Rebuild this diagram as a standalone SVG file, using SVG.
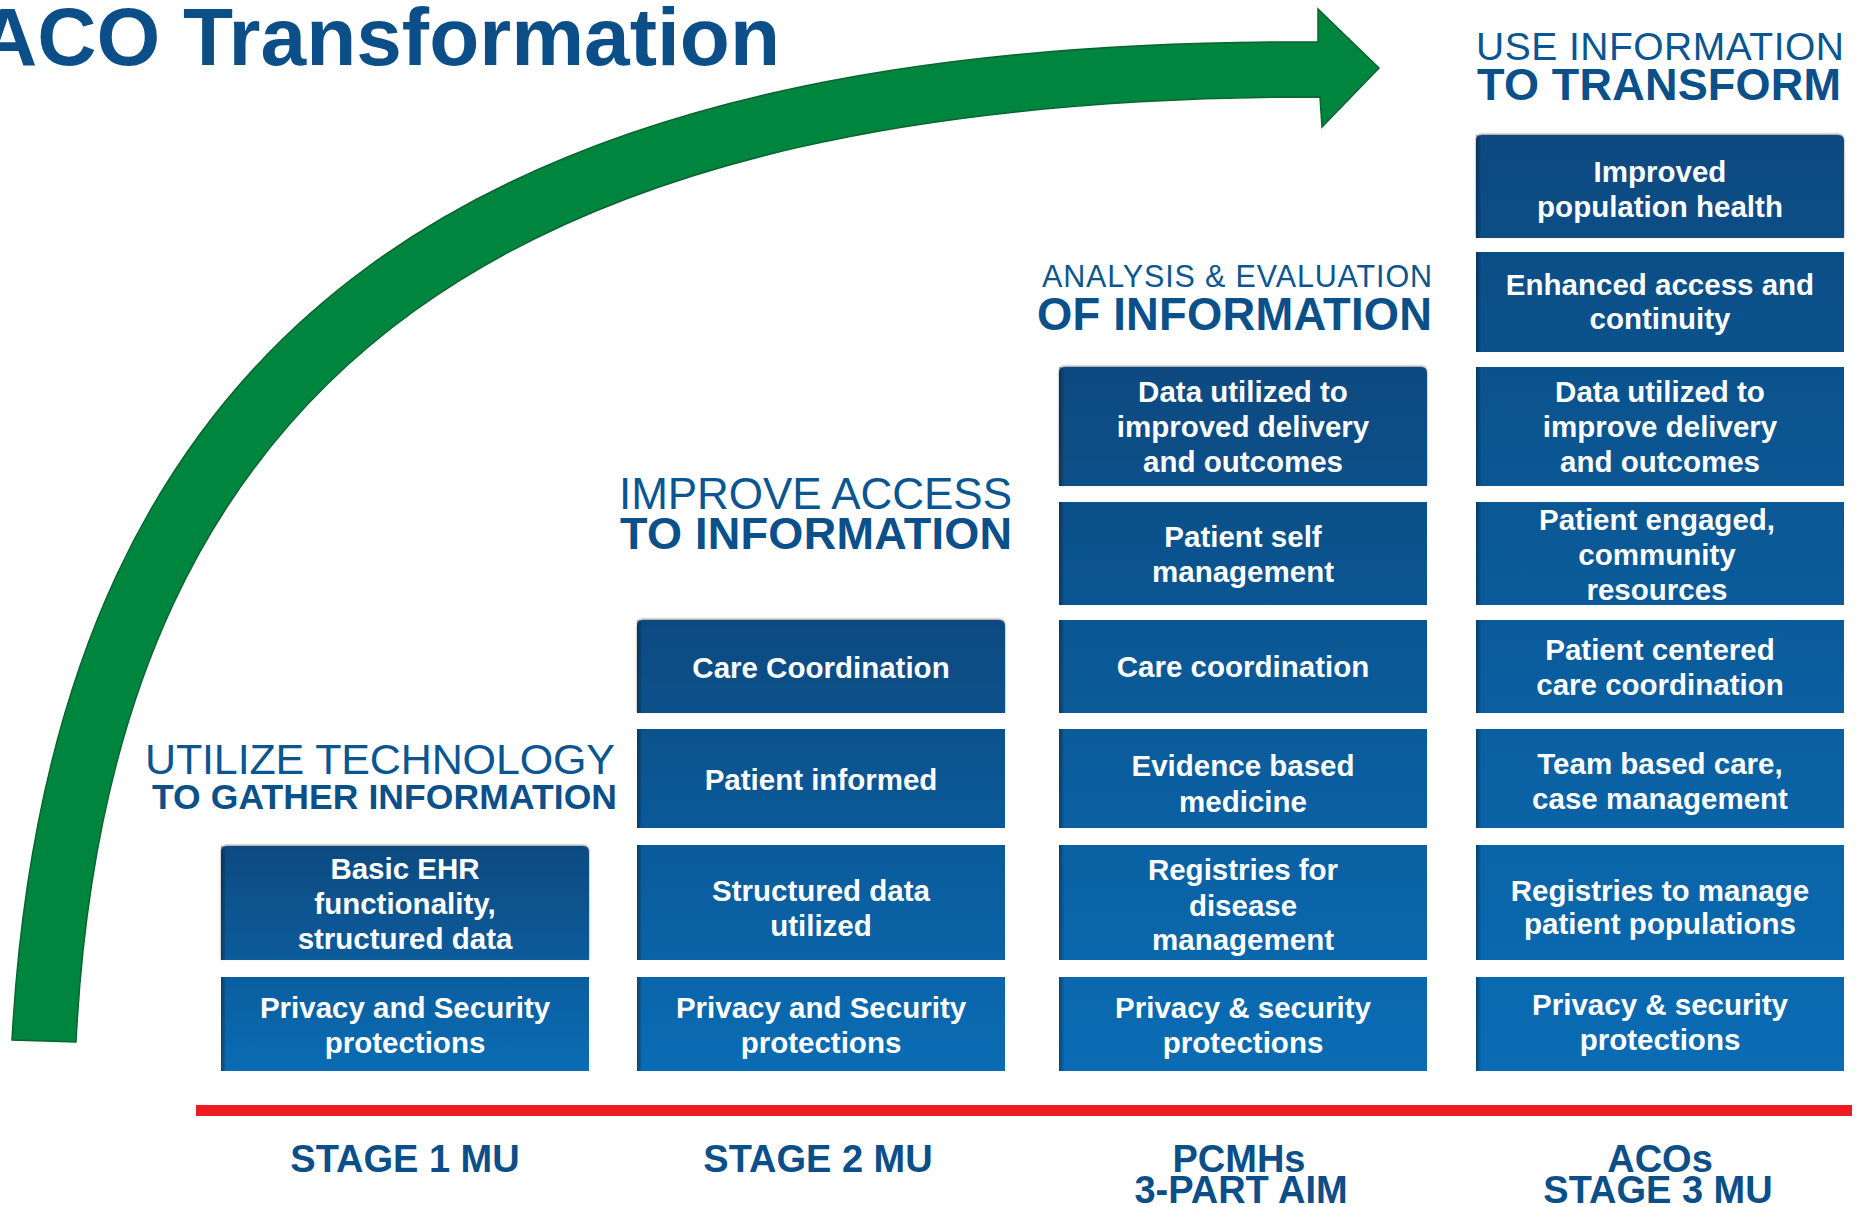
<svg xmlns="http://www.w3.org/2000/svg" width="1863" height="1207" viewBox="0 0 1863 1207">
  <style>
    .title { font-family: "Liberation Sans", Arial, sans-serif; font-weight: bold; fill: #0c4f88; }
    .hreg { font-family: "Liberation Sans", Arial, sans-serif; font-weight: normal; fill: #0b5690; }
    .hbold { font-family: "Liberation Sans", Arial, sans-serif; font-weight: bold; fill: #0b5089; }
    .bt { font-family: "Liberation Sans", Arial, sans-serif; font-weight: bold; font-size: 29.5px; fill: #ffffff; text-anchor: middle; }
    .stage { font-family: "Liberation Sans", Arial, sans-serif; font-weight: bold; font-size: 38px; fill: #0c4f88; text-anchor: middle; }
    .edge { fill: url(#edgeShade); }
  </style>
  <defs>
    <linearGradient id="g1" gradientUnits="userSpaceOnUse" x1="0" y1="846" x2="0" y2="1071">
      <stop offset="0" stop-color="#0b4a80"/><stop offset="1" stop-color="#0a6cb4"/>
    </linearGradient>
    <linearGradient id="g2" gradientUnits="userSpaceOnUse" x1="0" y1="620" x2="0" y2="1071">
      <stop offset="0" stop-color="#0b4a80"/><stop offset="1" stop-color="#0a6cb4"/>
    </linearGradient>
    <linearGradient id="g3" gradientUnits="userSpaceOnUse" x1="0" y1="367" x2="0" y2="1071">
      <stop offset="0" stop-color="#0b4a80"/><stop offset="1" stop-color="#0a6cb4"/>
    </linearGradient>
    <linearGradient id="g4" gradientUnits="userSpaceOnUse" x1="0" y1="135" x2="0" y2="1071">
      <stop offset="0" stop-color="#0b4a80"/><stop offset="1" stop-color="#0a6cb4"/>
    </linearGradient>
    <linearGradient id="edgeShade" x1="0" y1="0" x2="1" y2="0">
      <stop offset="0" stop-color="#000000" stop-opacity="0.35"/>
      <stop offset="0.015" stop-color="#000000" stop-opacity="0"/>
      <stop offset="1" stop-color="#000000" stop-opacity="0"/>
    </linearGradient>
    <filter id="topShadow" x="-5%" y="-10%" width="110%" height="120%">
      <feDropShadow dx="0" dy="-1" stdDeviation="1.3" flood-color="#000000" flood-opacity="0.45"/>
    </filter>
  </defs>

  <rect x="0" y="0" width="1863" height="1207" fill="#ffffff"/>

  <!-- Title -->
  <text class="title" x="-22" y="65" font-size="82" textLength="802">ACO Transformation</text>

  <!-- Progress arrow -->
  <g id="progress-arrow">
    <path d="M 12,1040 C 52,310 490,38 1318,42 L 1318,9 L 1379,68 L 1322,127 L 1320,97 C 530,97 110,352 76,1042 Z" fill="#00853e" stroke="#07652f" stroke-width="1.5" stroke-linejoin="miter"/>
  </g>

  <!-- Headings -->
  <g id="heading-stage1">
    <text class="hreg" x="145" y="774" font-size="43" textLength="470">UTILIZE TECHNOLOGY</text>
    <text class="hbold" x="152" y="809" font-size="35.5" textLength="465">TO GATHER INFORMATION</text>
  </g>
  <g id="heading-stage2">
    <text class="hreg" x="619" y="509" font-size="44" textLength="393">IMPROVE ACCESS</text>
    <text class="hbold" x="620" y="549" font-size="45" textLength="392">TO INFORMATION</text>
  </g>
  <g id="heading-pcmh">
    <text class="hreg" x="1042" y="287" font-size="30.5" textLength="390">ANALYSIS &amp; EVALUATION</text>
    <text class="hbold" x="1037" y="330" font-size="45.3" textLength="395">OF INFORMATION</text>
  </g>
  <g id="heading-aco">
    <text class="hreg" x="1476" y="60" font-size="39" textLength="368">USE INFORMATION</text>
    <text class="hbold" x="1477" y="100" font-size="45" textLength="364">TO TRANSFORM</text>
  </g>

  <!-- Column 1: Stage 1 MU -->
  <g id="c1-basic-ehr">
    <path d="M221,960 V852 Q221,846 227,846 H583 Q589,846 589,852 V960 Z" fill="url(#g1)" filter="url(#topShadow)"/>
    <rect class="edge" x="221" y="846" width="368" height="114"/>
    <text class="bt" x="405" y="879">Basic EHR</text>
    <text class="bt" x="405" y="914">functionality,</text>
    <text class="bt" x="405" y="949">structured data</text>
  </g>
  <g id="c1-privacy">
    <rect x="221" y="977" width="368" height="94" fill="url(#g1)"/>
    <rect class="edge" x="221" y="977" width="368" height="94"/>
    <text class="bt" x="405" y="1018">Privacy and Security</text>
    <text class="bt" x="405" y="1053">protections</text>
  </g>

  <!-- Column 2: Stage 2 MU -->
  <g id="c2-care-coordination">
    <path d="M637,713 V626 Q637,620 643,620 H999 Q1005,620 1005,626 V713 Z" fill="url(#g2)" filter="url(#topShadow)"/>
    <rect class="edge" x="637" y="620" width="368" height="93"/>
    <text class="bt" x="821" y="678">Care Coordination</text>
  </g>
  <g id="c2-patient-informed">
    <rect x="637" y="729" width="368" height="99" fill="url(#g2)"/>
    <rect class="edge" x="637" y="729" width="368" height="99"/>
    <text class="bt" x="821" y="790">Patient informed</text>
  </g>
  <g id="c2-structured-data">
    <rect x="637" y="845" width="368" height="115" fill="url(#g2)"/>
    <rect class="edge" x="637" y="845" width="368" height="115"/>
    <text class="bt" x="821" y="901">Structured data</text>
    <text class="bt" x="821" y="936">utilized</text>
  </g>
  <g id="c2-privacy">
    <rect x="637" y="977" width="368" height="94" fill="url(#g2)"/>
    <rect class="edge" x="637" y="977" width="368" height="94"/>
    <text class="bt" x="821" y="1018">Privacy and Security</text>
    <text class="bt" x="821" y="1053">protections</text>
  </g>

  <!-- Column 3: PCMHs -->
  <g id="c3-data-utilized">
    <path d="M1059,486 V373 Q1059,367 1065,367 H1421 Q1427,367 1427,373 V486 Z" fill="url(#g3)" filter="url(#topShadow)"/>
    <rect class="edge" x="1059" y="367" width="368" height="119"/>
    <text class="bt" x="1243" y="402">Data utilized to</text>
    <text class="bt" x="1243" y="437">improved delivery</text>
    <text class="bt" x="1243" y="472">and outcomes</text>
  </g>
  <g id="c3-patient-self">
    <rect x="1059" y="502" width="368" height="103" fill="url(#g3)"/>
    <rect class="edge" x="1059" y="502" width="368" height="103"/>
    <text class="bt" x="1243" y="547">Patient self</text>
    <text class="bt" x="1243" y="582">management</text>
  </g>
  <g id="c3-care-coordination">
    <rect x="1059" y="620" width="368" height="93" fill="url(#g3)"/>
    <rect class="edge" x="1059" y="620" width="368" height="93"/>
    <text class="bt" x="1243" y="677">Care coordination</text>
  </g>
  <g id="c3-evidence">
    <rect x="1059" y="729" width="368" height="99" fill="url(#g3)"/>
    <rect class="edge" x="1059" y="729" width="368" height="99"/>
    <text class="bt" x="1243" y="776">Evidence based</text>
    <text class="bt" x="1243" y="812">medicine</text>
  </g>
  <g id="c3-registries">
    <rect x="1059" y="845" width="368" height="115" fill="url(#g3)"/>
    <rect class="edge" x="1059" y="845" width="368" height="115"/>
    <text class="bt" x="1243" y="880">Registries for</text>
    <text class="bt" x="1243" y="916">disease</text>
    <text class="bt" x="1243" y="950">management</text>
  </g>
  <g id="c3-privacy">
    <rect x="1059" y="977" width="368" height="94" fill="url(#g3)"/>
    <rect class="edge" x="1059" y="977" width="368" height="94"/>
    <text class="bt" x="1243" y="1018">Privacy &amp; security</text>
    <text class="bt" x="1243" y="1053">protections</text>
  </g>

  <!-- Column 4: ACOs -->
  <g id="c4-population-health">
    <path d="M1476,238 V141 Q1476,135 1482,135 H1838 Q1844,135 1844,141 V238 Z" fill="url(#g4)" filter="url(#topShadow)"/>
    <rect class="edge" x="1476" y="135" width="368" height="103"/>
    <text class="bt" x="1660" y="182">Improved</text>
    <text class="bt" x="1660" y="217">population health</text>
  </g>
  <g id="c4-access">
    <rect x="1476" y="252" width="368" height="100" fill="url(#g4)"/>
    <rect class="edge" x="1476" y="252" width="368" height="100"/>
    <text class="bt" x="1660" y="295">Enhanced access and</text>
    <text class="bt" x="1660" y="329">continuity</text>
  </g>
  <g id="c4-data-utilized">
    <rect x="1476" y="367" width="368" height="119" fill="url(#g4)"/>
    <rect class="edge" x="1476" y="367" width="368" height="119"/>
    <text class="bt" x="1660" y="402">Data utilized to</text>
    <text class="bt" x="1660" y="437">improve delivery</text>
    <text class="bt" x="1660" y="472">and outcomes</text>
  </g>
  <g id="c4-patient-engaged">
    <rect x="1476" y="502" width="368" height="103" fill="url(#g4)"/>
    <rect class="edge" x="1476" y="502" width="368" height="103"/>
    <text class="bt" x="1657" y="530">Patient engaged,</text>
    <text class="bt" x="1657" y="565">community</text>
    <text class="bt" x="1657" y="600">resources</text>
  </g>
  <g id="c4-care-coordination">
    <rect x="1476" y="620" width="368" height="93" fill="url(#g4)"/>
    <rect class="edge" x="1476" y="620" width="368" height="93"/>
    <text class="bt" x="1660" y="660">Patient centered</text>
    <text class="bt" x="1660" y="695">care coordination</text>
  </g>
  <g id="c4-team-care">
    <rect x="1476" y="729" width="368" height="99" fill="url(#g4)"/>
    <rect class="edge" x="1476" y="729" width="368" height="99"/>
    <text class="bt" x="1660" y="774">Team based care,</text>
    <text class="bt" x="1660" y="809">case management</text>
  </g>
  <g id="c4-registries">
    <rect x="1476" y="845" width="368" height="115" fill="url(#g4)"/>
    <rect class="edge" x="1476" y="845" width="368" height="115"/>
    <text class="bt" x="1660" y="901">Registries to manage</text>
    <text class="bt" x="1660" y="934">patient populations</text>
  </g>
  <g id="c4-privacy">
    <rect x="1476" y="977" width="368" height="94" fill="url(#g4)"/>
    <rect class="edge" x="1476" y="977" width="368" height="94"/>
    <text class="bt" x="1660" y="1015">Privacy &amp; security</text>
    <text class="bt" x="1660" y="1050">protections</text>
  </g>

  <!-- Connectors / timeline -->
  <g id="connectors">
    <rect x="196" y="1105" width="1656" height="11" fill="#ed1c24"/>
  </g>

  <!-- Stage labels -->
  <g id="stage-labels">
    <text class="stage" x="405" y="1172">STAGE 1 MU</text>
    <text class="stage" x="818" y="1172">STAGE 2 MU</text>
    <text class="stage" x="1239" y="1172">PCMHs</text>
    <text class="stage" x="1241" y="1203">3-PART AIM</text>
    <text class="stage" x="1660" y="1172">ACOs</text>
    <text class="stage" x="1658" y="1203">STAGE 3 MU</text>
  </g>
</svg>
